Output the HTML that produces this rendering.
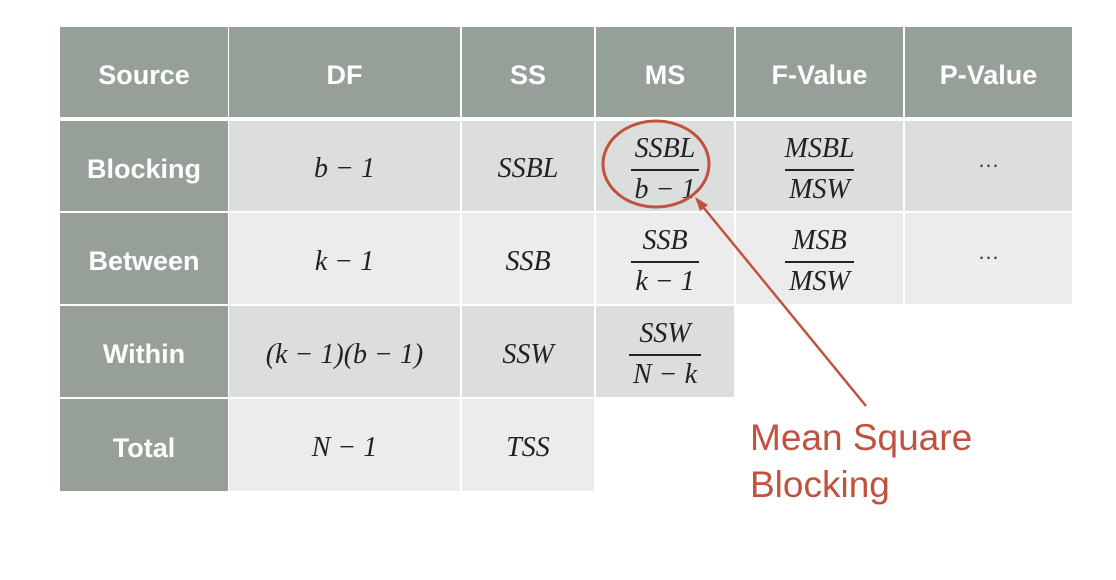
<!DOCTYPE html>
<html><head><meta charset="utf-8"><style>
body{margin:0;width:1116px;height:580px;background:#fff;position:relative;overflow:hidden;font-family:"Liberation Sans",sans-serif}
.c{position:absolute;display:flex;align-items:center;justify-content:center;box-sizing:border-box;padding-top:6px}
.h{background:#96a098;color:#fff;font-weight:bold;font-size:27px}
.d{background:#dcdedd}
.l{background:#ebeceb}
.m{font-family:"Liberation Serif",serif;font-style:italic;font-size:28px;color:#222}
.fr{display:inline-flex;flex-direction:column;align-items:center}
.fr .n{padding:0 4px 4px}
.fr .dd{border-top:2px solid #222;padding:3px 4px 0}
.dots{font-size:22px;color:#333;align-items:flex-start;padding-top:26px}
</style></head><body>
<div id="t"></div>
<svg width="1116" height="580" style="position:absolute;left:0;top:0">
<ellipse cx="656" cy="164" rx="53" ry="43" fill="none" stroke="#c0523e" stroke-width="3"/>
<line x1="866" y1="406" x2="699" y2="202" stroke="#c0523e" stroke-width="2.5"/>
<polygon points="695,197 708,205 700,211" fill="#c0523e"/>
<text x="750" y="450" font-family="Liberation Sans" font-size="37" fill="#c0523e">Mean Square</text>
<text x="750" y="497" font-family="Liberation Sans" font-size="37" fill="#c0523e">Blocking</text>
</svg>
<script>
const cols=[[60,228],[229,460],[462,594],[596,734],[736,903],[905,1072]];
const rows=[[27,117],[121,211],[213,304],[306,397],[399,491]];
const headers=['Source','DF','SS','MS','F-Value','P-Value'];
const sources=['Blocking','Between','Within','Total'];
const df=['b − 1','k − 1','(k − 1)(b − 1)','N − 1'];
const ss=['SSBL','SSB','SSW','TSS'];
const msNum=['SSBL','SSB','SSW'];
const msDen=['b − 1','k − 1','N − k'];
const fNum=['MSBL','MSB'];
const fDen=['MSW','MSW'];
const t=document.getElementById('t');
function cell(r,c,cls,html,name){
 const e=document.createElement('div');
 e.className='c '+cls;
 e.style.left=cols[c][0]+'px';e.style.top=rows[r][0]+'px';
 e.style.width=(cols[c][1]-cols[c][0])+'px';e.style.height=(rows[r][1]-rows[r][0])+'px';
 e.innerHTML=html;
 
 
 t.appendChild(e);
}
const frac=(a,b)=>'<span class="fr"><span class="n">'+a+'</span><span class="dd">'+b+'</span></span>';
headers.forEach((h,i)=>cell(0,i,'h',h,'header-'+h.toLowerCase()));
sources.forEach((s,i)=>{
 const bg=i%2==0?'d':'l';
 cell(i+1,0,'h',s,'source-'+s.toLowerCase());
 cell(i+1,1,bg+' m',df[i],'df-'+s.toLowerCase());
 cell(i+1,2,bg+' m',ss[i],'ss-'+s.toLowerCase());
 if(i<msNum.length)cell(i+1,3,bg+' m',frac(msNum[i],msDen[i]),'ms-'+s.toLowerCase());
 if(i<fNum.length){
  cell(i+1,4,bg+' m',frac(fNum[i],fDen[i]),'f-'+s.toLowerCase());
  cell(i+1,5,bg+' dots','…','p-'+s.toLowerCase());
 }
});
</script>
</body></html>
